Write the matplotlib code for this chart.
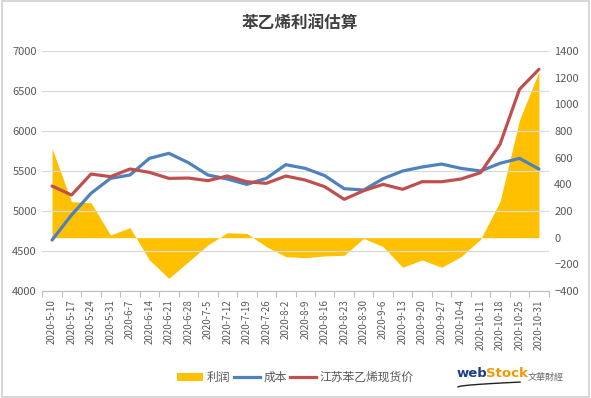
import matplotlib
matplotlib.use("Agg")
import matplotlib.pyplot as plt
import numpy as np
from matplotlib.patches import Rectangle
from matplotlib.lines import Line2D
from matplotlib.patches import Patch

plt.rcParams['font.family'] = ['Noto Sans CJK SC', 'DejaVu Sans']

dates = ["2020-5-10", "2020-5-17", "2020-5-24", "2020-5-31", "2020-6-7", "2020-6-14",
         "2020-6-21", "2020-6-28", "2020-7-5", "2020-7-12", "2020-7-19", "2020-7-26",
         "2020-8-2", "2020-8-9", "2020-8-16", "2020-8-23", "2020-8-30", "2020-9-6",
         "2020-9-13", "2020-9-20", "2020-9-27", "2020-10-4", "2020-10-11", "2020-10-18",
         "2020-10-25", "2020-10-31"]
cost = [4637, 4950, 5221, 5408, 5450, 5658, 5721, 5604, 5450, 5400, 5333, 5408, 5579,
        5533, 5442, 5279, 5262, 5404, 5500, 5550, 5587, 5533, 5500, 5596, 5658, 5525]
price = [5312, 5200, 5462, 5429, 5525, 5483, 5408, 5412, 5379, 5437, 5366, 5346, 5437,
         5387, 5304, 5146, 5254, 5333, 5271, 5366, 5366, 5400, 5479, 5833, 6521, 6771]
profit = [670, 270, 262, 20, 75, -167, -305, -180, -55, 37, 32, -67, -142,
          -150, -137, -132, -5, -67, -222, -167, -222, -142, -12, 270, 882, 1245]

title = "苯乙烯利润估算"
labels = ["利润", "成本", "江苏苯乙烯现货价"]

C_Y = "#FFC000"
C_B = "#4F81BD"
C_R = "#C0504D"
GRID = "#D9D9D9"
TXT = "#595959"

fig = plt.figure(figsize=(5.91, 3.98), dpi=100)
fig.patch.set_facecolor("white")
fig.add_artist(Rectangle((0.003, 0.003), 0.994, 0.994, transform=fig.transFigure,
                         fill=False, edgecolor="#D0D0D0", linewidth=1.2))

ax = fig.add_axes([0.0716, 0.2688, 0.8568, 0.6031])
ax2 = ax.twinx()

x = np.arange(len(dates))

# profit area on secondary axis, drawn underneath
ax2.fill_between(x, 0, profit, color=C_Y, linewidth=0, zorder=1)
ax2.set_ylim(-400, 1400)
ax2.set_yticks(np.arange(-400, 1401, 200))

ax.set_zorder(ax2.get_zorder() + 1)
ax.patch.set_visible(False)

ax.plot(x, cost, color=C_B, linewidth=2.3, solid_capstyle="round", zorder=3)
ax.plot(x, price, color=C_R, linewidth=2.3, solid_capstyle="round", zorder=4)
ax.set_ylim(4000, 7000)
ax.set_yticks(np.arange(4000, 7001, 500))
ax.set_xlim(-0.5, len(dates) - 0.5)
ax.yaxis.grid(True, color=GRID, linewidth=0.9)
ax2.set_axisbelow(True)
ax.set_axisbelow(True)

ax.set_xticks(x)
ax.set_xticklabels(dates, rotation=90, fontsize=7, color=TXT)
ax.set_xticks(np.arange(-0.5, len(dates), 1), minor=True)
ax.tick_params(axis="x", which="major", length=0, pad=6)
ax.tick_params(axis="x", which="minor", length=4, color="#BFBFBF", width=0.8)
ax.tick_params(axis="y", length=0, labelsize=8, labelcolor=TXT, pad=4)
ax2.tick_params(axis="y", length=0, labelsize=8, labelcolor=TXT, pad=4)

for a in (ax, ax2):
    for s in ("top", "left", "right"):
        a.spines[s].set_visible(False)
ax.spines["bottom"].set_color("#BFBFBF")
ax2.spines["bottom"].set_visible(False)

fig.text(0.508, 0.943, title, ha="center", va="center", fontsize=12,
         fontweight="bold", color="#404040")

handles = [Patch(facecolor=C_Y, edgecolor="none"),
           Line2D([], [], color=C_B, linewidth=2.3),
           Line2D([], [], color=C_R, linewidth=2.3)]
leg = fig.legend(handles, labels, loc="center", bbox_to_anchor=(0.50, 0.052),
                 ncol=3, frameon=False, fontsize=8.5, handlelength=2.2,
                 handletextpad=0.3, columnspacing=0.3, labelcolor=TXT)

# logo text
fig.text(0.773, 0.062, "web", ha="left", va="center", fontsize=9.5, fontweight="bold",
         color="#1F3C88", family=["DejaVu Sans"])
fig.text(0.823, 0.062, "Stock", ha="left", va="center", fontsize=9.5, fontweight="bold",
         color="#F39800", family=["DejaVu Sans"])
fig.text(0.893, 0.052, "文華財經", ha="left", va="center", fontsize=6.5,
         color="#666666", family=["Noto Sans CJK TC", "DejaVu Sans"])
sx = np.linspace(0.775, 0.88, 30)
sy = 0.028 + 0.012 * ((sx - 0.775) / 0.105) ** 0.6
fig.add_artist(Line2D(sx, sy, transform=fig.transFigure, color="#222222", linewidth=1.0))

fig.savefig("out.png", dpi=100, facecolor="white")
